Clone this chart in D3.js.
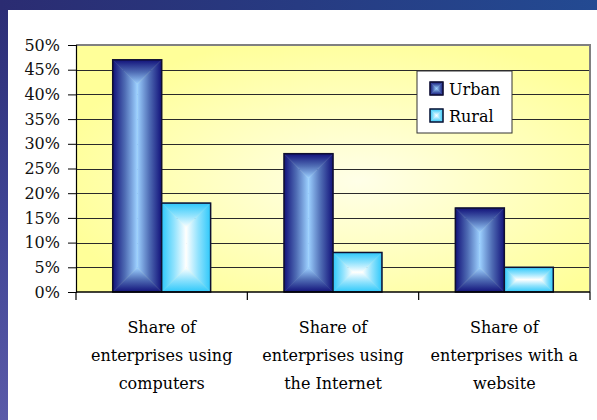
<!DOCTYPE html>
<html>
<head>
<meta charset="utf-8">
<script src="https://cdn.jsdelivr.net/npm/d3@7"></script>
<style>
  body { margin: 0; background: #2a3278; overflow: hidden; }
  text { font-family: "DejaVu Serif", serif; fill: #000; }
</style>
</head>
<body>
<script>
// chart data
var categories = [
    ["Share of", "enterprises using", "computers"],
    ["Share of", "enterprises using", "the Internet"],
    ["Share of", "enterprises with a", "website"]
];
var seriesNames = ["Urban", "Rural"];
var urban = [0.47, 0.28, 0.17];
var rural = [0.18, 0.08, 0.05];
var yTicks = [0, 0.05, 0.10, 0.15, 0.20, 0.25, 0.30, 0.35, 0.40, 0.45, 0.50];

var w = 597, h = 420;

var svg = d3.select("body")
    .append("svg")
    .attr("width", w)
    .attr("height", h);

var defs = svg.append("defs");

// background gradients
var bgGrad = defs.append("linearGradient").attr("id", "bg");
bgGrad.append("stop").attr("offset", "0%").attr("stop-color", "#2b2c72");
bgGrad.append("stop").attr("offset", "100%").attr("stop-color", "#234a92");

var sideGrad = defs.append("linearGradient").attr("id", "side")
    .attr("x1", 0).attr("y1", 0).attr("x2", 0).attr("y2", 1);
sideGrad.append("stop").attr("offset", "0%").attr("stop-color", "#2c2e76");
sideGrad.append("stop").attr("offset", "50%").attr("stop-color", "#3f4494");
sideGrad.append("stop").attr("offset", "100%").attr("stop-color", "#5a5aa8");

var plotGrad = defs.append("radialGradient").attr("id", "plotbg")
    .attr("cx", "55%").attr("cy", "55%").attr("r", "60%");
plotGrad.append("stop").attr("offset", "0%").attr("stop-color", "#ffffe8");
plotGrad.append("stop").attr("offset", "100%").attr("stop-color", "#ffff99");

// bar colours: edge -> centre
var barColors = {
    Urban: { edge: "#12127a", mid: "#4f6cb4", center: "#9cd0ff" },
    Rural: { edge: "#2ec8fa", mid: "#8fe2fd", center: "#ffffff" }
};

// four gradients per series, one for each side of a "from centre" fill
seriesNames.forEach(function(s){
    var c = barColors[s];
    var dirs = [
        { id: "t", x2: 0, y2: 1, rev: false },
        { id: "b", x2: 0, y2: 1, rev: true },
        { id: "l", x2: 1, y2: 0, rev: false },
        { id: "r", x2: 1, y2: 0, rev: true }
    ];
    dirs.forEach(function(d){
        var g = defs.append("linearGradient")
            .attr("id", "g-" + s + "-" + d.id)
            .attr("x1", 0).attr("y1", 0).attr("x2", d.x2).attr("y2", d.y2);
        var stops = [c.edge, c.mid, c.center];
        if (d.rev) stops = stops.slice().reverse();
        stops.forEach(function(col, i){
            g.append("stop").attr("offset", (i * 50) + "%").attr("stop-color", col);
        });
    });
});

// background and white panel
svg.append("rect").attr("width", w).attr("height", h).style("fill", "url(#bg)");
svg.append("rect").attr("x", 0).attr("y", 10).attr("width", 8).attr("height", h - 10)
    .style("fill", "url(#side)");
svg.append("rect").attr("x", 8).attr("y", 10).attr("width", w - 8).attr("height", h - 10)
    .style("fill", "#ffffff");

// scales
var x0 = d3.scaleBand()
    .domain(d3.range(categories.length))
    .range([76, 590])
    .paddingInner(0)
    .paddingOuter(0);

var x1 = d3.scaleBand()
    .domain(seriesNames)
    .range([0, x0.bandwidth()])
    .paddingInner(0)
    .paddingOuter(0.75);

var y = d3.scaleLinear()
    .domain([0, 0.5])
    .range([292, 45]);

var left = x0.range()[0], right = x0.range()[1];

// plot area
svg.append("rect")
    .attr("x", left).attr("y", y(0.5))
    .attr("width", right - left).attr("height", y(0) - y(0.5))
    .style("fill", "url(#plotbg)");

// gridlines
svg.selectAll(".grid")
    .data(yTicks.filter(function(d){ return d > 0 && d < 0.5; }))
    .enter()
    .append("line")
    .attr("class", "grid")
    .attr("x1", left).attr("x2", right)
    .attr("y1", function(d){ return Math.round(y(d)) + 0.5; })
    .attr("y2", function(d){ return Math.round(y(d)) + 0.5; })
    .style("stroke", "#2a2a2a")
    .style("stroke-width", 1);

// plot border (top and right, grey)
svg.append("path")
    .attr("d", "M" + left + "," + y(0.5) + "H" + right + "V" + y(0))
    .style("fill", "none")
    .style("stroke", "#808080")
    .style("stroke-width", 2);

// draws a bar with a rectangular "from centre" gradient
function drawBar(g, s, bx, by, bw, bh){
    var k = Math.min(bw, bh) / 2;
    var pts = {
        t: [[bx, by], [bx + bw, by], [bx + bw - k, by + k], [bx + k, by + k]],
        b: [[bx, by + bh], [bx + bw, by + bh], [bx + bw - k, by + bh - k], [bx + k, by + bh - k]],
        l: [[bx, by], [bx + k, by + k], [bx + k, by + bh - k], [bx, by + bh]],
        r: [[bx + bw, by], [bx + bw - k, by + k], [bx + bw - k, by + bh - k], [bx + bw, by + bh]]
    };
    ["t", "b", "l", "r"].forEach(function(side){
        g.append("path")
            .attr("d", "M" + pts[side].map(function(p){ return p.join(","); }).join("L") + "Z")
            .style("fill", "url(#g-" + s + "-" + side + ")")
            .style("stroke", "url(#g-" + s + "-" + side + ")")
            .style("stroke-width", 0.6);
    });
    g.append("rect")
        .attr("x", bx).attr("y", by).attr("width", bw).attr("height", bh)
        .style("fill", "none")
        .style("stroke", "#101030")
        .style("stroke-width", 1.5);
}

// bars
var barData = [];
categories.forEach(function(c, i){
    barData.push({ cat: i, series: "Urban", value: urban[i] });
    barData.push({ cat: i, series: "Rural", value: rural[i] });
});

var bars = svg.append("g").attr("class", "bars");
barData.forEach(function(d){
    var bx = x0(d.cat) + x1(d.series);
    drawBar(bars.append("g"), d.series, bx, y(d.value), x1.bandwidth(), y(0) - y(d.value));
});

// y axis
var yAxis = d3.axisLeft(y)
    .tickValues(yTicks)
    .tickFormat(d3.format(".0%"))
    .tickSize(8)
    .tickPadding(8);

var yg = svg.append("g")
    .attr("transform", "translate(" + left + ",0)")
    .call(yAxis);
yg.select(".domain").style("stroke", "#000").style("stroke-width", 1.2);
yg.selectAll(".tick line").style("stroke", "#000");
yg.selectAll(".tick text")
    .style("font-family", "'DejaVu Serif', serif")
    .style("font-size", "16px")
    .style("fill", "#111");

// x axis line and category ticks
svg.append("line")
    .attr("x1", left).attr("x2", right)
    .attr("y1", y(0)).attr("y2", y(0))
    .style("stroke", "#000").style("stroke-width", 1.5);

svg.selectAll(".xtick")
    .data(d3.range(categories.length + 1))
    .enter()
    .append("line")
    .attr("class", "xtick")
    .attr("x1", function(i){ return left + i * x0.step(); })
    .attr("x2", function(i){ return left + i * x0.step(); })
    .attr("y1", y(0)).attr("y2", y(0) + 8)
    .style("stroke", "#000").style("stroke-width", 1.2);

// category labels
var labels = svg.selectAll(".catlabel")
    .data(categories)
    .enter()
    .append("text")
    .attr("class", "catlabel")
    .attr("text-anchor", "middle")
    .attr("y", 333)
    .style("font-size", "16px");

labels.selectAll("tspan")
    .data(function(d, i){ return d.map(function(line){ return { line: line, i: i }; }); })
    .enter()
    .append("tspan")
    .attr("x", function(d){ return x0(d.i) + x0.bandwidth() / 2; })
    .attr("dy", function(d, j){ return j === 0 ? 0 : 28; })
    .text(function(d){ return d.line; });

// legend
var legend = svg.append("g").attr("transform", "translate(417,71)");
legend.append("rect")
    .attr("width", 95).attr("height", 62)
    .style("fill", "#fff")
    .style("stroke", "#333")
    .style("stroke-width", 1);

seriesNames.forEach(function(s, i){
    drawBar(legend.append("g"), s, 13, 11 + i * 27, 13, 13);
    legend.append("text")
        .attr("x", 32)
        .attr("y", 24 + i * 27)
        .style("font-size", "16px")
        .text(s);
});
</script>
</body>
</html>
